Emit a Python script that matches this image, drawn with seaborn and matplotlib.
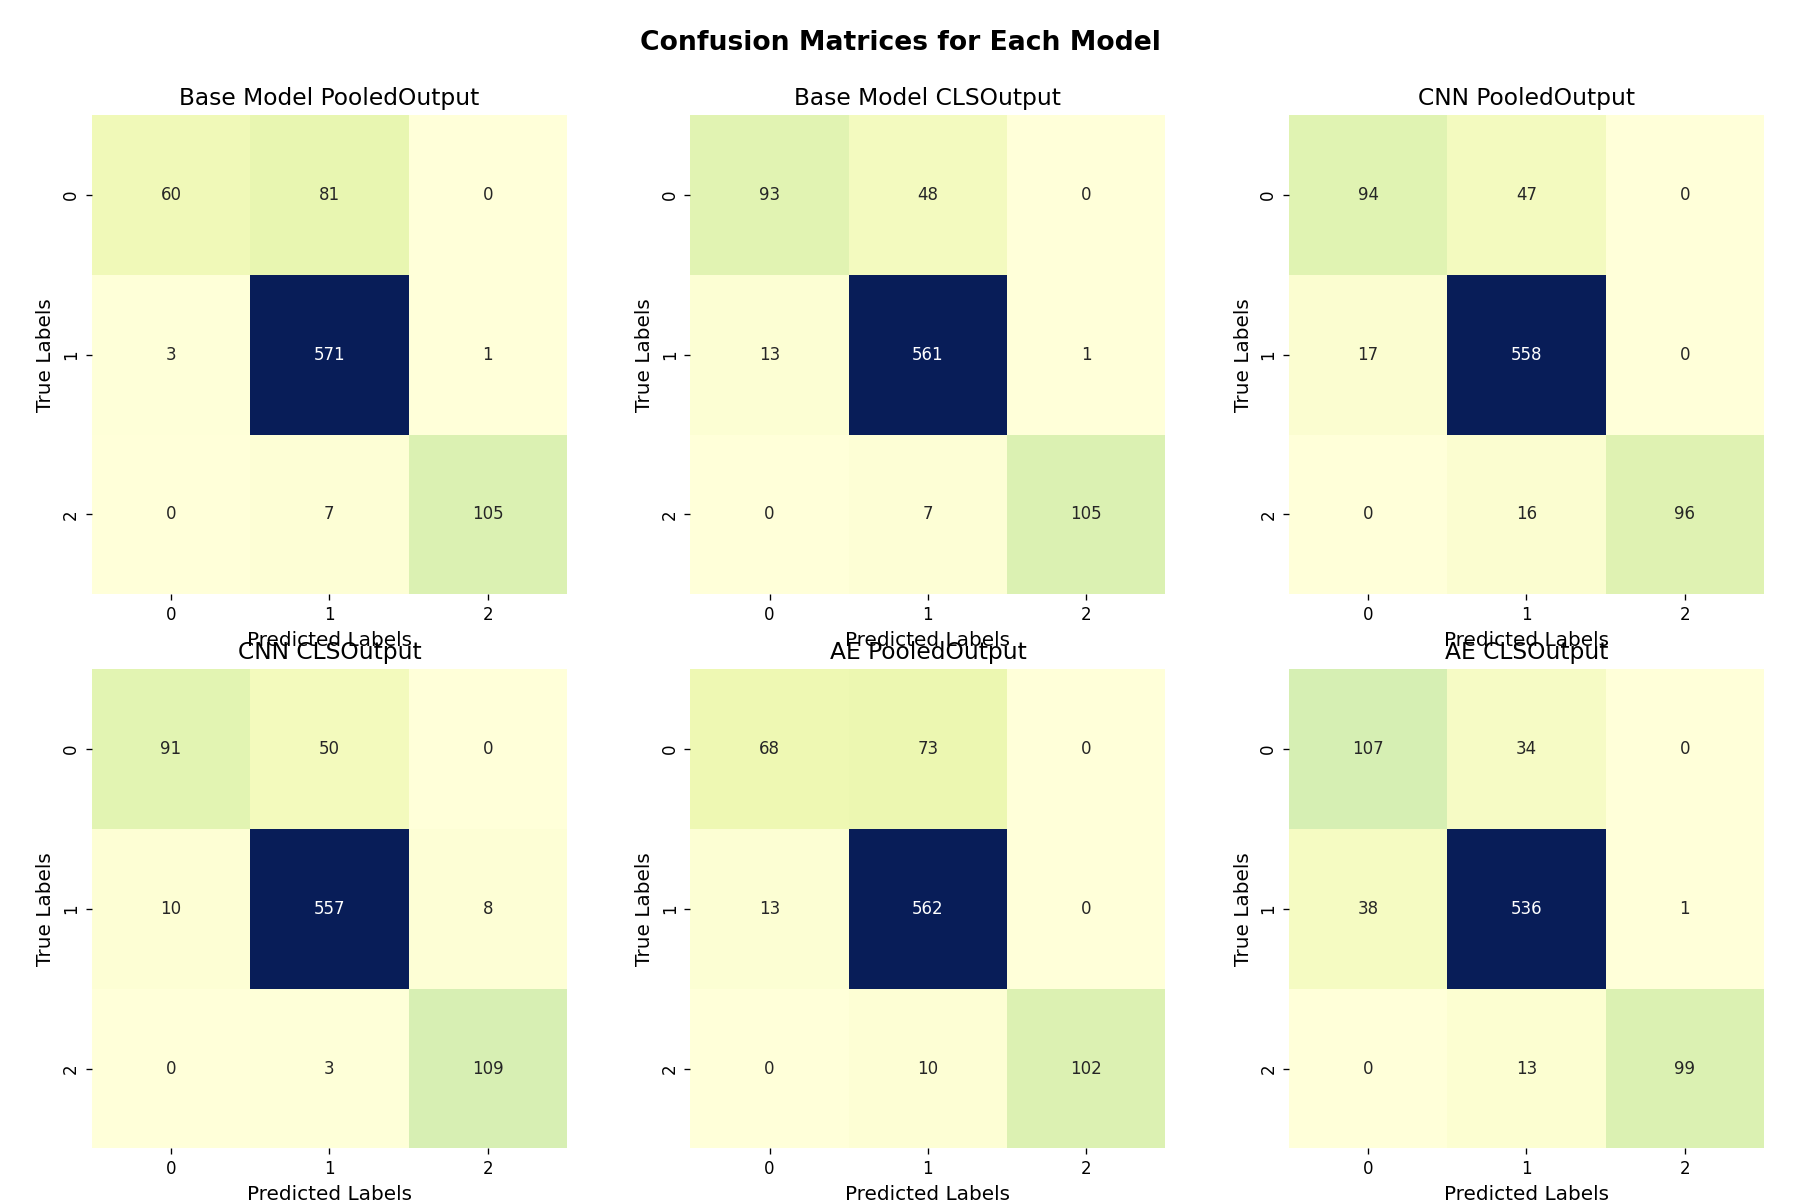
import numpy as np
import seaborn as sns
import matplotlib.pyplot as plt

model_names = ["Base Model PooledOutput", "Base Model CLSOutput", "CNN PooledOutput",
               "CNN CLSOutput", "AE PooledOutput", "AE CLSOutput"]
base_pooled = [[60, 81, 0], [3, 571, 1], [0, 7, 105]]
base_cls = [[93, 48, 0], [13, 561, 1], [0, 7, 105]]
cnn_pooled = [[94, 47, 0], [17, 558, 0], [0, 16, 96]]
cnn_cls = [[91, 50, 0], [10, 557, 8], [0, 3, 109]]
ae_pooled = [[68, 73, 0], [13, 562, 0], [0, 10, 102]]
ae_cls = [[107, 34, 0], [38, 536, 1], [0, 13, 99]]
matrices = [base_pooled, base_cls, cnn_pooled, cnn_cls, ae_pooled, ae_cls]

fig, axes = plt.subplots(2, 3, figsize=(15, 10), dpi=120)
for ax, name, cm in zip(axes.flat, model_names, matrices):
    sns.heatmap(np.array(cm), annot=True, fmt="d", cmap="YlGnBu", cbar=False, ax=ax)
    ax.set_title(name, fontsize=14)
    ax.set_xlabel("Predicted Labels", fontsize=12)
    ax.set_ylabel("True Labels", fontsize=12)

fig.suptitle("Confusion Matrices for Each Model", fontsize=16, fontweight="bold", y=0.975)
plt.subplots_adjust(left=0.051, right=0.98, top=0.904, bottom=0.043, wspace=0.26, hspace=0.157)
plt.savefig("out.png")
